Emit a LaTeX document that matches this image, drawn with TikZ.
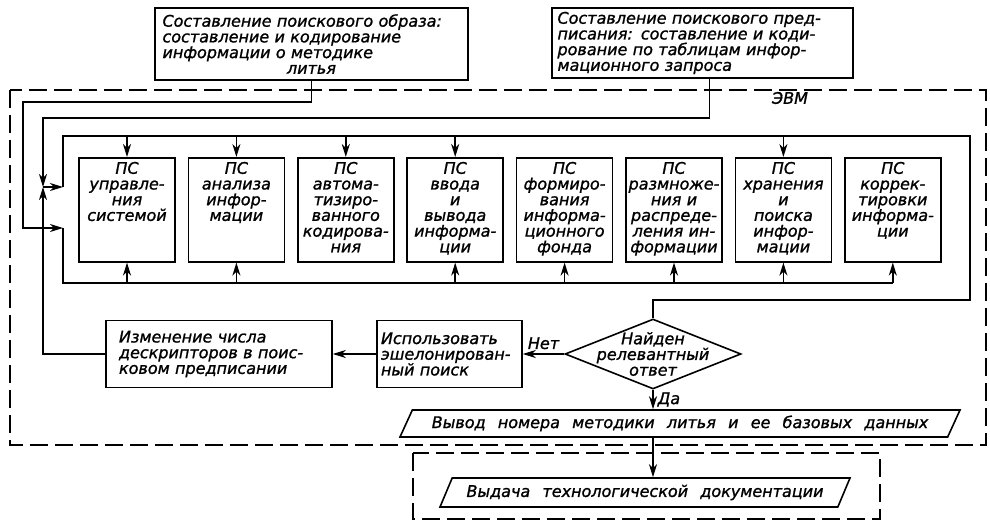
\documentclass[tikz,border=0pt]{standalone}
\usepackage{fontspec}
\setmainfont{DejaVu Sans}[WordSpace=2.4, FakeBold=1.2]
\usepackage{xcolor}
\usepackage{tikz}
\usetikzlibrary{arrows.meta, positioning, calc, shapes.geometric}

\begin{document}
\begin{tikzpicture}[
    x=1pt, y=-1pt, line width=1.6pt,
    font=\itshape\fontsize{16pt}{15.7pt}\selectfont,
    kotak/.style={draw, align=left, inner xsep=4pt, inner ysep=3pt},
    modul/.style={draw, anchor=north, text width=94pt, align=center,
                  inner xsep=1pt, inner ysep=4pt, text height=12pt, text depth=84pt},
    belah/.style={draw, diamond, minimum width=176pt, minimum height=70pt, inner sep=0pt},
    jajar/.style={draw, trapezium, trapezium left angle=58, trapezium right angle=122,
                  trapezium stretches body, inner ysep=2pt},
    panah/.style={-{Stealth[length=13pt, width=8pt, inset=4pt]}},
    putus/.style={dash pattern=on 18pt off 7pt},
    ket/.style={align=center, inner sep=1pt}
  ]
    \useasboundingbox (0,0) rectangle (990,521);
    \draw[putus] (10,90) rectangle (986,445);
    \draw[putus] (413,453) rectangle (880,519);
    \node[kotak, minimum width=313pt, minimum height=72pt, text width=298pt] (citra) at (311.5,44)
      {Составление поискового образа:\\составление и кодирование\\информации о методике\\\makebox[\linewidth]{литья}};
    \node[kotak, minimum width=301pt, minimum height=70pt, text width=290pt] (resep) at (702.5,43)
      {Составление поискового пред-\\писания: составление и коди-\\рование по таблицам инфор-\\мационного запроса};
    \node[ket] (evm) at (790,98) {ЭВМ};
    \node[modul] (m1) at (127,157) {ПС\\управле-\\ния\\системой};
    \node[modul] (m2) at (236.4,157) {ПС\\анализа\\инфор-\\мации};
    \node[modul] (m3) at (345.8,157) {ПС\\автома-\\тизиро-\\ванного\\кодирова-\\ния};
    \node[modul] (m4) at (455.2,157) {ПС\\ввода\\и\\вывода\\информа-\\ции};
    \node[modul] (m5) at (564.6,157) {ПС\\формиро-\\вания\\информа-\\ционного\\фонда};
    \node[modul] (m6) at (674,157) {ПС\\размноже-\\ния и\\распреде-\\ления ин-\\формации};
    \node[modul] (m7) at (783.4,157) {ПС\\хранения\\и\\поиска\\инфор-\\мации};
    \node[modul] (m8) at (892.8,157) {ПС\\коррек-\\тировки\\информа-\\ции};
    \coordinate (busatas) at (63,136);
    \coordinate (busbawah) at (63,283);
    \coordinate (masukatas) at (63,187);
    \coordinate (masukbawah) at (63,228);
    \coordinate (simpul) at (43,187);
    \coordinate (sudut) at (970,300);
    \node[belah] (temu) at (653,354) {};
    \node[ket] (temuteks) at (temu) {Найден\\релевантный\\ответ};
    \node[kotak, minimum width=145pt, minimum height=67pt, text width=137pt] (eselon) at (449.5,354)
      {Использовать\\эшелонирован-\\ный поиск};
    \node[kotak, minimum width=226pt, minimum height=67pt, text width=200pt] (ubah) at (219,354)
      {Изменение числа\\дескрипторов в поис-\\ковом предписании};
    \node[jajar, minimum width=560pt, minimum height=27pt] (keluaran) at (680,423.5)
      {Вывод номера методики литья и ее базовых данных};
    \node[jajar, minimum width=410pt, minimum height=29pt] (dokumen) at (645,492.5)
      {Выдача технологической документации};
    \draw[panah] (citra.south) |- (23,102) |- (masukbawah);
    \draw (masukbawah) |- (m8 |- busbawah);
    \draw[panah] ([xshift=7pt]resep.south) |- (43,118) -- (simpul);
    \draw[panah] (ubah.west) -| (simpul);
    \draw[panah] (simpul) -- (masukatas);
    \draw (masukatas) |- (busatas -| sudut) -- (sudut) -| (temu.north);
    \draw[panah] (m1 |- busatas) -- (m1.north);
    \draw[panah] (m2 |- busatas) -- (m2.north);
    \draw[panah] (m3 |- busatas) -- (m3.north);
    \draw[panah] (m4 |- busatas) -- (m4.north);
    \draw[panah] (m7 |- busatas) -- (m7.north);
    \draw[panah] (m1 |- busbawah) -- (m1.south);
    \draw[panah] (m2 |- busbawah) -- (m2.south);
    \draw[panah] (m4 |- busbawah) -- (m4.south);
    \draw[panah] (m5 |- busbawah) -- (m5.south);
    \draw[panah] (m6 |- busbawah) -- (m6.south);
    \draw[panah] (m7 |- busbawah) -- (m7.south);
    \draw[panah] (m8 |- busbawah) -- (m8.south);
    \draw[panah] (temu.west) -- node[ket, above, yshift=3pt] (tidak) {Нет} (eselon.east);
    \draw[panah] (temu.south) -- node[ket, right, xshift=3pt] (ya) {Да} (temu.south |- keluaran.north);
    \draw[panah] (eselon.west) -- (ubah.east);
    \draw[panah] (keluaran.south -| temu) -- (dokumen.north -| temu);
  \end{tikzpicture}
\end{document}
